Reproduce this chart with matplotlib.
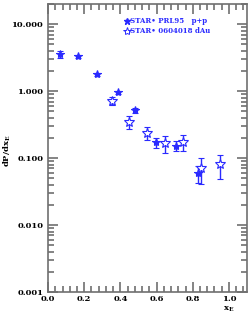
import numpy as np
import matplotlib
matplotlib.use('Agg')
import matplotlib.pyplot as plt
from matplotlib.ticker import LogLocator, MultipleLocator, FixedFormatter, NullFormatter

# STAR p+p (PRL95), filled stars
pp_x = [0.066, 0.167, 0.268, 0.384, 0.483, 0.599, 0.709, 0.828]
pp_y = [3.56, 3.30, 1.79, 0.97, 0.52, 0.173, 0.153, 0.060]
pp_err = [0.38, 0.20, 0.10, 0.05, 0.04, 0.030, 0.025, 0.017]

# STAR d+Au (0604018), open stars
da_x = [0.351, 0.450, 0.549, 0.648, 0.748, 0.847, 0.948]
da_y = [0.72, 0.35, 0.239, 0.166, 0.175, 0.070, 0.081]
da_err = [0.095, 0.077, 0.052, 0.045, 0.046, 0.029, 0.032]

yticks = [0.001, 0.01, 0.1, 1.0, 10.0]
ylabels = ['0.001', '0.010', '0.100', '1.000', '10.000']
xticks = [0.0, 0.2, 0.4, 0.6, 0.8, 1.0]

blue = '#2a2aff'
gray = '#707070'

plt.rcParams['font.family'] = 'DejaVu Serif'
fig = plt.figure(figsize=(2.49, 3.14), dpi=100)
ax = fig.add_axes([0.193, 0.070, 0.799, 0.917])

ax.errorbar(pp_x, pp_y, yerr=pp_err, fmt='*', color=blue, ms=6, mew=0.8,
            elinewidth=1.0, capsize=2.5, capthick=1.0)
ax.errorbar(da_x, da_y, yerr=da_err, fmt='*', color=blue, mfc='white', ms=7.5, mew=0.8,
            elinewidth=1.0, capsize=2.5, capthick=1.0)

ax.set_yscale('log')
ax.set_xlim(0, 1.1)
ax.set_ylim(0.001, 20)

ax.set_yticks(yticks)
ax.yaxis.set_major_formatter(FixedFormatter(ylabels))
ax.yaxis.set_minor_locator(LogLocator(base=10, subs=np.arange(2, 10)))
ax.yaxis.set_minor_formatter(NullFormatter())
ax.set_xticks(xticks)
ax.set_xticklabels(['%.1f' % v for v in xticks])
ax.xaxis.set_minor_locator(MultipleLocator(0.04))

ax.tick_params(which='both', direction='in', top=True, right=True, color=gray,
               width=1.2, labelsize=6, pad=2)
ax.tick_params(axis='y', pad=3.5)
ax.tick_params(which='major', length=7)
ax.tick_params(which='minor', length=4)
for lab in ax.get_xticklabels() + ax.get_yticklabels():
    lab.set_fontweight('bold')
for s in ax.spines.values():
    s.set_color(gray)
    s.set_linewidth(1.2)

ax.set_ylabel(r'dP/dx$_\mathregular{E}$', fontsize=6, fontweight='bold', labelpad=1)
ax.yaxis.set_label_coords(-0.175, 0.49)
ax.text(1.0, -0.042, r'x$_\mathregular{E}$', transform=ax.get_xaxis_transform(),
        fontsize=6, fontweight='bold', ha='center', va='top')

# legend drawn by hand
ax.plot([0.395], [0.941], transform=ax.transAxes, marker='*', color=blue, ms=5, ls='none')
ax.plot([0.395], [0.906], transform=ax.transAxes, marker='*', color=blue, mfc='white',
        ms=6, mew=0.7, ls='none')
ax.text(0.413, 0.941, 'STAR\u2022 PRL95   p+p', transform=ax.transAxes, color=blue,
        fontsize=5.0, fontweight='bold', va='center')
ax.text(0.413, 0.906, 'STAR\u2022 0604018 dAu', transform=ax.transAxes, color=blue,
        fontsize=5.0, fontweight='bold', va='center')

fig.savefig('out.png', dpi=100)
